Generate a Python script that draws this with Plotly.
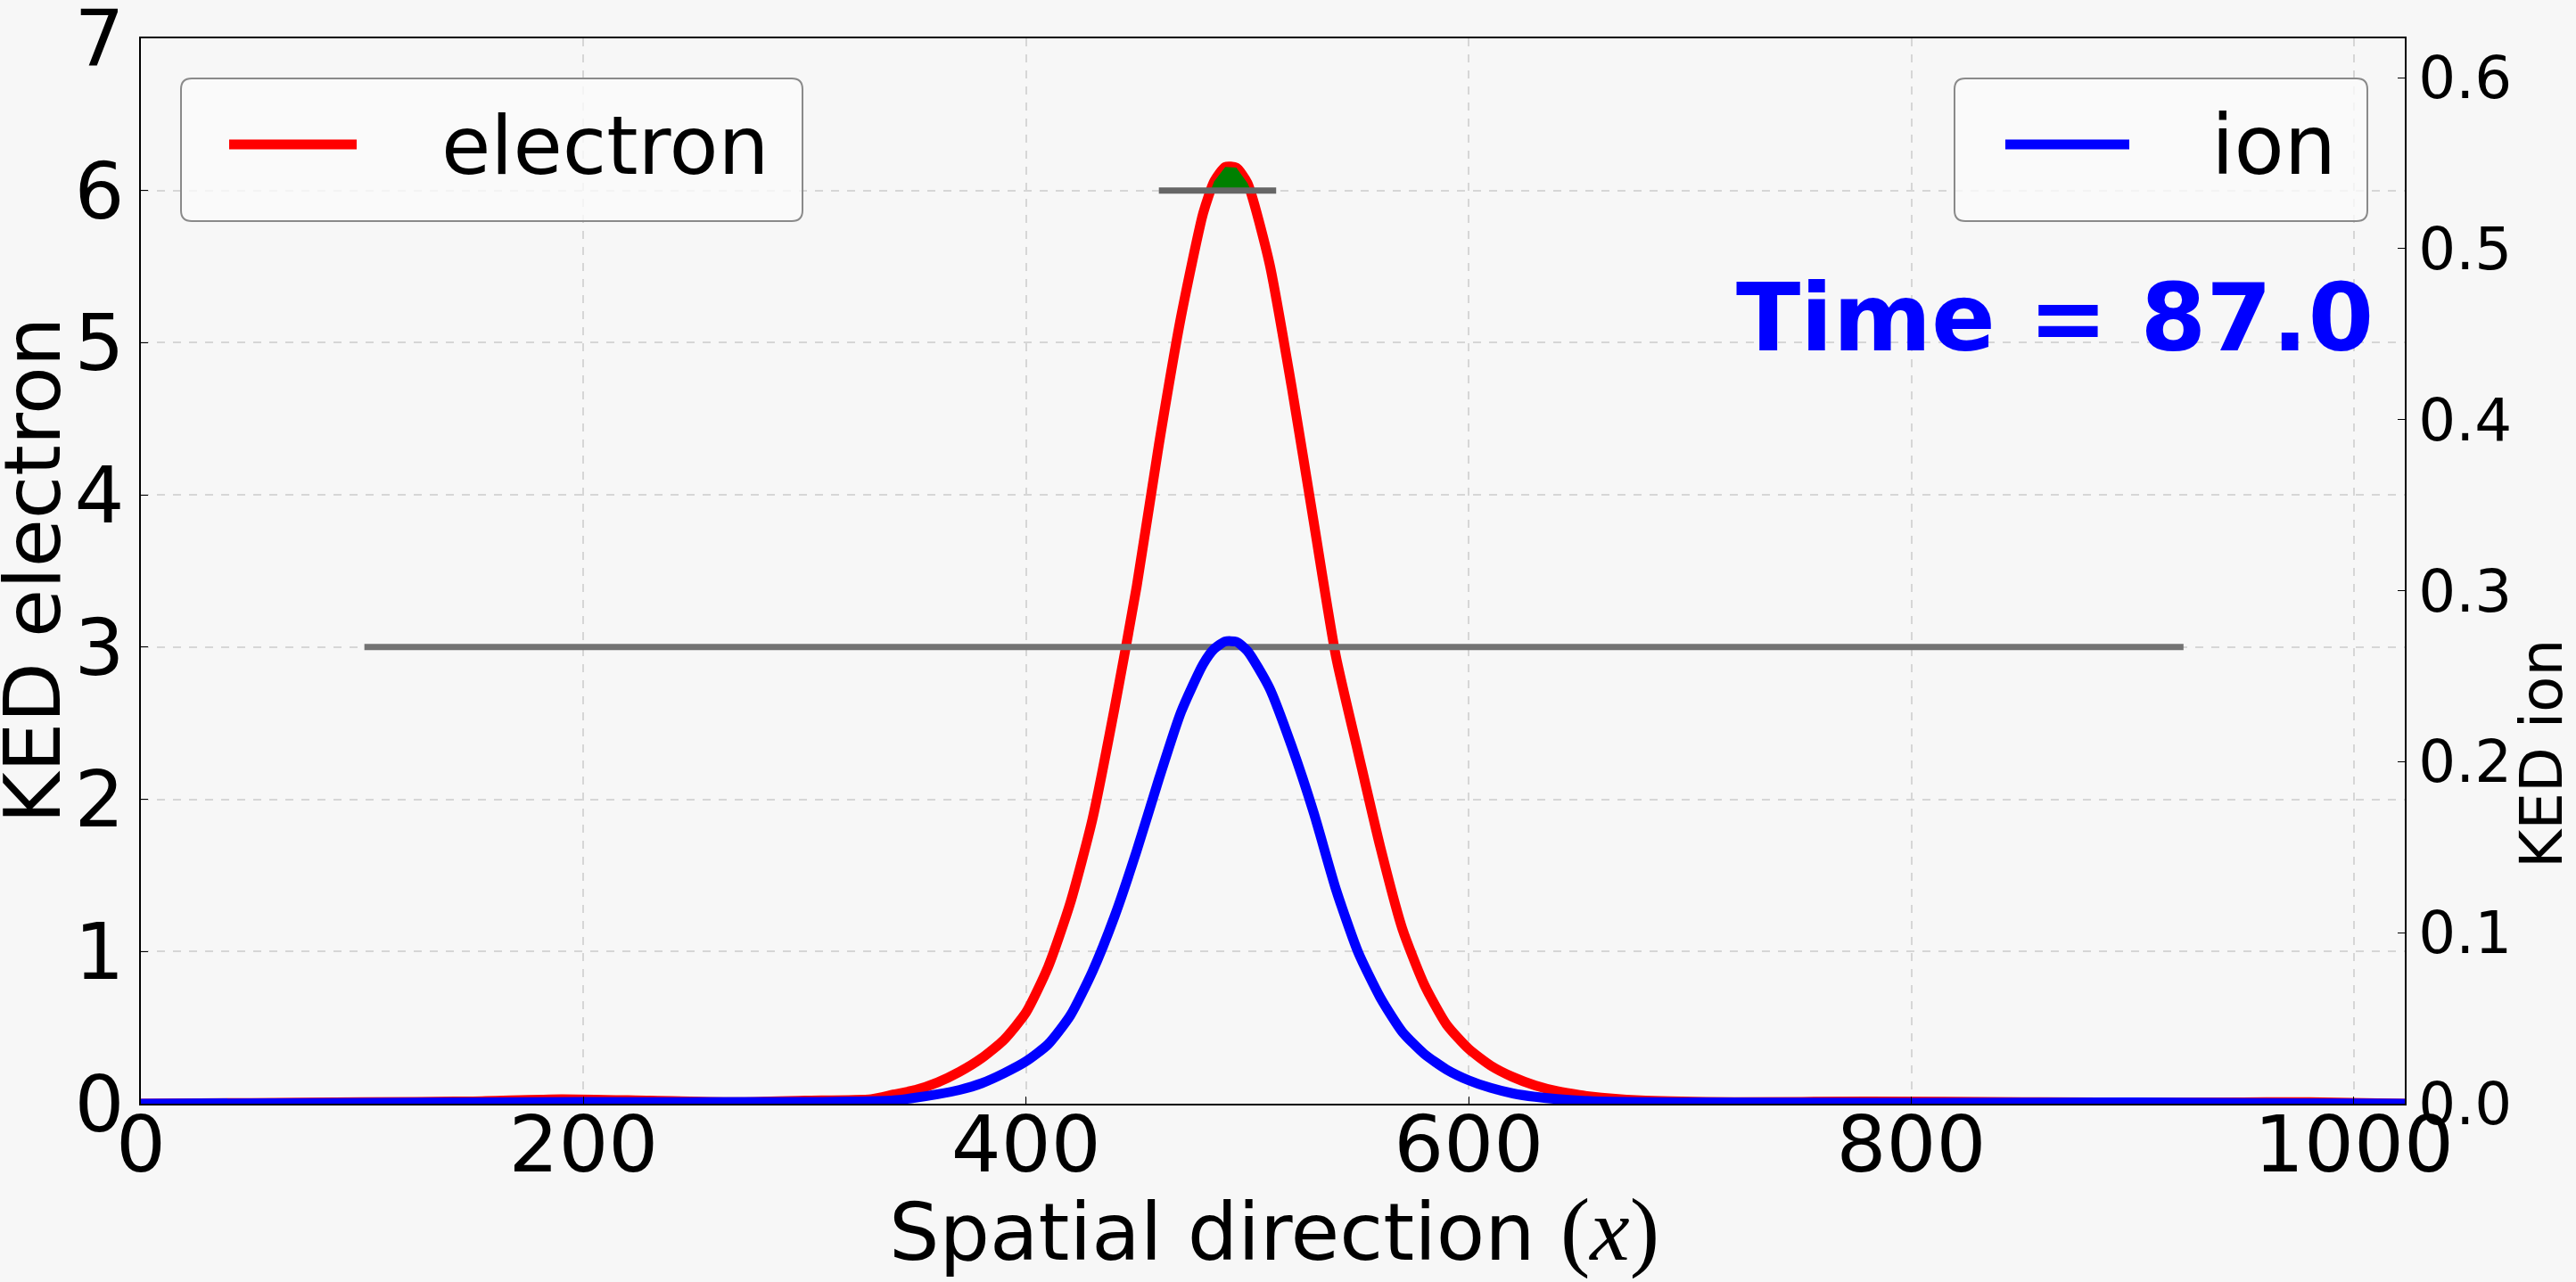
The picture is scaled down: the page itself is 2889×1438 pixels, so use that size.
import plotly.graph_objects as go

# ---------------- data ----------------
red_x = [0, 50, 100, 150, 190, 230, 270, 300, 330, 340, 350, 360, 370, 380, 390, 400, 410,
         420, 430, 440, 450, 460, 470, 480, 485, 490, 495, 500, 510, 520, 530, 540, 550,
         560, 570, 580, 590, 600, 610, 620, 630, 640, 650, 660, 680, 720, 780, 850, 920,
         980, 1023]
red_y = [0.0, 0.005, 0.01, 0.015, 0.03, 0.02, 0.01, 0.02, 0.03, 0.06, 0.09, 0.14, 0.21,
         0.30, 0.42, 0.6, 0.9, 1.32, 1.87, 2.6, 3.4, 4.33, 5.17, 5.85, 6.06, 6.155, 6.15,
         6.05, 5.52, 4.71, 3.82, 2.94, 2.31, 1.69, 1.15, 0.78, 0.52, 0.36, 0.25, 0.175,
         0.12, 0.082, 0.057, 0.04, 0.02, 0.01, 0.015, 0.01, 0.008, 0.01, 0.0]

blue_x = [0, 100, 200, 300, 340, 350, 360, 370, 380, 390, 400, 410, 420, 430, 440, 450, 460,
          470, 480, 485, 490, 495, 500, 510, 520, 530, 540, 550, 560, 570, 580, 590, 600,
          610, 620, 630, 640, 660, 700, 800, 900, 1023]
blue_y = [0.0, 0.0005, 0.001, 0.001, 0.002, 0.0035, 0.0055, 0.0081, 0.012, 0.0178, 0.0248,
          0.0348, 0.0516, 0.0773, 0.1096, 0.148, 0.1898, 0.229, 0.257, 0.266, 0.2703, 0.2701,
          0.2648, 0.2430, 0.2091, 0.170, 0.1254, 0.0887, 0.0622, 0.0420, 0.0290, 0.0200,
          0.0137, 0.0092, 0.0060, 0.0040, 0.0027, 0.0013, 0.0008, 0.0005, 0.0008, 0.0]

# region of the electron peak above the upper marker (green fill)
peak_x = [483.4, 485, 490, 495, 500, 501.5]
peak_y = [6.0, 6.06, 6.155, 6.15, 6.05, 6.0]

# horizontal gray marker lines
mark_lo_x = [101, 923]
mark_lo_y = [3, 3]
mark_hi_x = [460, 513]
mark_hi_y = [6, 6]

x_ticks = [0, 200, 400, 600, 800, 1000]
y_ticks = [0, 1, 2, 3, 4, 5, 6, 7]
y2_ticks = [0.0, 0.1, 0.2, 0.3, 0.4, 0.5, 0.6]

series_names = ["electron", "ion"]
time_label = "Time = 87.0"

# ---------------- figure ----------------
W, H = 2889, 1438
L, R, T, B = 158, 2697, 43, 1238
PW, PH = R - L, B - T
FONT = "DejaVu Sans"
BG = "#f7f7f7"


def px(x):
    return (x - L) / PW


def py(y):
    return (B - y) / PH


fig = go.Figure()

fig.add_trace(go.Scatter(
    x=red_x, y=red_y, mode="lines", name=series_names[0],
    line=dict(color="red", width=11, shape="spline", smoothing=0.6),
    showlegend=False))

fig.add_trace(go.Scatter(
    x=peak_x + [peak_x[0]], y=peak_y + [peak_y[0]], mode="lines", fill="toself",
    fillcolor="green", line=dict(width=0, color="green"), showlegend=False,
    hoverinfo="skip"))

fig.add_trace(go.Scatter(
    x=mark_lo_x, y=mark_lo_y, mode="lines",
    line=dict(color="#737373", width=7), showlegend=False))
fig.add_trace(go.Scatter(
    x=mark_hi_x, y=mark_hi_y, mode="lines",
    line=dict(color="#666666", width=7), showlegend=False))

fig.add_trace(go.Scatter(
    x=blue_x, y=blue_y, mode="lines", name=series_names[1], yaxis="y2",
    line=dict(color="blue", width=11, shape="spline", smoothing=0.6),
    showlegend=False))

grid = dict(showgrid=True, gridcolor="#d6d6d6", griddash="dash", gridwidth=2)

fig.update_layout(
    width=W, height=H,
    margin=dict(l=L, r=W - R, t=T, b=H - B, pad=0, autoexpand=False),
    paper_bgcolor=BG, plot_bgcolor=BG,
    font=dict(family=FONT, color="black"),
    showlegend=False,
    xaxis=dict(range=[0, 1023], tickvals=x_ticks, ticktext=[str(v) for v in x_ticks],
               tickfont=dict(size=88, family=FONT), ticks="inside", ticklen=8,
               tickcolor="black", showline=True, linecolor="black", linewidth=2,
               mirror=True, zeroline=False, ticklabelstandoff=-32, automargin=False,
               ticklabeloverflow="allow", **grid),
    yaxis=dict(range=[0, 7], tickvals=y_ticks, ticktext=[str(v) for v in y_ticks],
               tickfont=dict(size=88, family=FONT), ticks="inside", ticklen=8,
               tickcolor="black", showline=True, linecolor="black", linewidth=2,
               mirror=True, zeroline=False, ticklabelstandoff=-1, automargin=False,
               ticklabeloverflow="allow", **grid),
    yaxis2=dict(range=[0, 0.623], tickvals=y2_ticks, ticktext=[f"{v:.1f}" for v in y2_ticks],
                overlaying="y", side="right", showgrid=False, zeroline=False,
                tickfont=dict(size=66, family=FONT), ticks="inside", ticklen=8,
                tickcolor="black", showline=True, linecolor="black", linewidth=2,
                ticklabelstandoff=0, automargin=False, ticklabeloverflow="allow"),
)


def rounded_box(x0, y0, x1, y1, r=12):
    rx, ry = r / PW, r / PH
    a0, a1 = px(x0), px(x1)
    b0, b1 = py(y1), py(y0)  # bottom, top in paper
    return (f"M {a0+rx},{b1} L {a1-rx},{b1} Q {a1},{b1} {a1},{b1-ry} "
            f"L {a1},{b0+ry} Q {a1},{b0} {a1-rx},{b0} L {a0+rx},{b0} "
            f"Q {a0},{b0} {a0},{b0+ry} L {a0},{b1-ry} Q {a0},{b1} {a0+rx},{b1} Z")


shapes = []
for (bx0, bx1, lx0, lx1, col) in [(203, 900, 257, 400, "red"), (2192, 2655, 2249, 2388, "blue")]:
    shapes.append(dict(type="path", xref="paper", yref="paper",
                       path=rounded_box(bx0, 88, bx1, 248),
                       line=dict(color="#8a8a8a", width=2),
                       fillcolor="rgba(250,250,250,0.8)", layer="above"))
    shapes.append(dict(type="line", xref="paper", yref="paper",
                       x0=px(lx0), x1=px(lx1), y0=py(162), y1=py(162),
                       line=dict(color=col, width=11), layer="above"))
fig.update_layout(shapes=shapes)

annotations = [
    dict(text=series_names[0], x=px(493), y=py(163), xref="paper", yref="paper",
         xanchor="left", yanchor="middle", showarrow=False,
         font=dict(size=90, family=FONT, color="black")),
    dict(text=series_names[1], x=px(2478), y=py(163), xref="paper", yref="paper",
         xanchor="left", yanchor="middle", showarrow=False,
         font=dict(size=92, family=FONT, color="black")),
    dict(text=f"<b>{time_label}</b>", x=px(2664), y=py(357), xref="paper", yref="paper",
         xanchor="right", yanchor="middle", showarrow=False,
         font=dict(size=106, family=FONT, color="blue")),
    dict(text="Spatial direction <span style='font-family:Liberation Serif;font-size:100px'>(<i>x</i>)</span>",
         x=px(1429), y=py(1380), xref="paper", yref="paper",
         xanchor="center", yanchor="middle", showarrow=False,
         font=dict(size=89, family=FONT, color="black")),
    dict(text="KED electron", x=px(36), y=py(640), xref="paper", yref="paper",
         xanchor="center", yanchor="middle", showarrow=False, textangle=-90,
         font=dict(size=88, family=FONT, color="black")),
    dict(text="KED ion", x=px(2850), y=py(846), xref="paper", yref="paper",
         xanchor="center", yanchor="middle", showarrow=False, textangle=-90,
         font=dict(size=66, family=FONT, color="black")),
]
fig.update_layout(annotations=annotations)

fig.write_html("out.html")
